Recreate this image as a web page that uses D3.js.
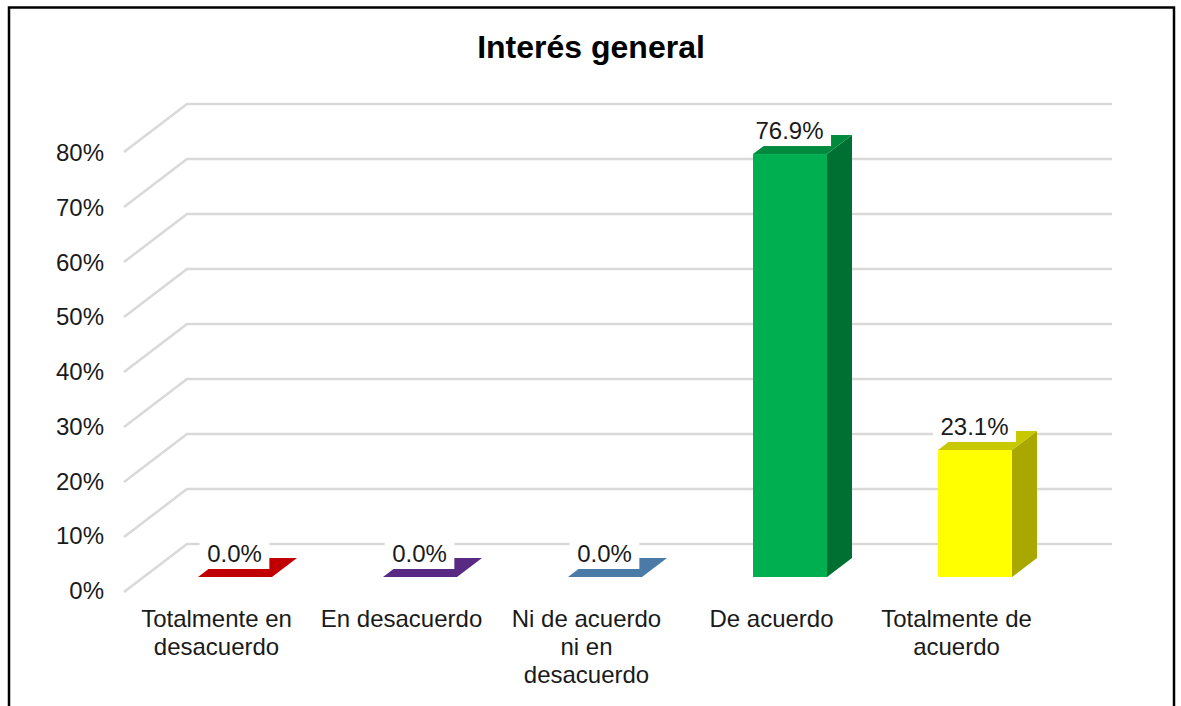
<!DOCTYPE html>
<html>
<head>
<meta charset="utf-8">
<script src="https://cdn.jsdelivr.net/npm/d3@7"></script>
<style>
  html, body { margin: 0; padding: 0; background: #fff; overflow: hidden; }
  text { font-family: "Liberation Sans", Arial, sans-serif; fill: #1a1a1a; }
</style>
</head>
<body>
<div class="chart"></div>
<script>
const categories = ["Totalmente en desacuerdo", "En desacuerdo", "Ni de acuerdo ni en desacuerdo", "De acuerdo", "Totalmente de acuerdo"];
const categoryLines = [["Totalmente en", "desacuerdo"], ["En desacuerdo"], ["Ni de acuerdo", "ni en", "desacuerdo"], ["De acuerdo"], ["Totalmente de", "acuerdo"]];
const values = [0, 0, 0, 76.9, 23.1];
const yTicks = [0, 10, 20, 30, 40, 50, 60, 70, 80];
const frontColors = ["#c00000", "#582a84", "#4a7ba7", "#00b050", "#ffff00"];
const topColors = ["#c00000", "#582a84", "#4a7ba7", "#008a3e", "#c8c800"];
const sideColors = ["#900000", "#42205f", "#375d7e", "#006f32", "#a8a800"];

const width = 1181, height = 706;

let svg = d3.select(".chart").append("svg")
    .attr("width", width)
    .attr("height", height);

// frame, runs off the bottom like the original
svg.append("path")
    .attr("d", "M9," + (height + 5) + "V7.5H1174V" + (height + 5))
    .attr("fill", "none")
    .attr("stroke", "#000")
    .attr("stroke-width", 2.5);

svg.append("text")
    .attr("x", 591)
    .attr("y", 58)
    .attr("text-anchor", "middle")
    .attr("font-size", 32)
    .attr("font-weight", "bold")
    .style("fill", "#000")
    .text("Interés general");

let x = d3.scaleBand()
    .domain(categories)
    .range([124, 1049])
    .paddingInner(0.6)
    .paddingOuter(0.3);

let y = d3.scaleLinear()
    .domain([0, 80])
    .range([592, 152]);

// 3d offsets: wall depth, bar position inside it, and bar depth
const wallX = 63, wallY = 48;
const barOffX = 18.5, barOffY = 15;
const barDepthX = 25, barDepthY = 19;

svg.append("g")
  .selectAll("path")
  .data(yTicks)
  .enter().append("path")
    .attr("d", d => "M124," + y(d) + "L" + (124 + wallX) + "," + (y(d) - wallY) + "H" + (1049 + wallX))
    .attr("fill", "none")
    .attr("stroke", "#d9d9d9")
    .attr("stroke-width", 2.5);

// tick labels sit on a slightly tighter step than the gridlines
let yLabels = d3.scaleLinear()
    .domain([0, 80])
    .range([591, 153]);

let yAxis = d3.axisLeft(yLabels)
    .tickValues(yTicks)
    .tickFormat(d => d + "%")
    .tickSize(0)
    .tickPadding(20);

let yg = svg.append("g")
    .attr("transform", "translate(124,0)")
    .call(yAxis);
yg.select(".domain").remove();
yg.selectAll("text").attr("font-size", 24).attr("font-family", null);

let xAxis = d3.axisBottom(x).tickSize(0);
let xg = svg.append("g")
    .attr("transform", "translate(0,601)")
    .call(xAxis);
xg.select(".domain").remove();
xg.selectAll("text")
    .attr("font-size", 24)
    .attr("font-family", null)
    .attr("y", 0)
    .attr("dy", null)
    .text(null)
  .selectAll("tspan")
  .data((d, i) => categoryLines[i])
  .enter().append("tspan")
    .attr("x", 0)
    .attr("y", (d, i) => 26 + i * 28)
    .text(d => d);

let bars = svg.append("g")
  .selectAll("g")
  .data(values)
  .enter().append("g");

function barLeft(i) { return x(categories[i]) + barOffX; }
function barRight(i) { return barLeft(i) + x.bandwidth(); }
function barBase() { return y(0) - barOffY; }
function barTop(d) { return y(d) - barOffY; }

bars.append("path")
    .attr("fill", (d, i) => sideColors[i])
    .attr("d", (d, i) => "M" + barRight(i) + "," + barBase()
      + "l" + barDepthX + "," + (-barDepthY)
      + "V" + (barTop(d) - barDepthY)
      + "l" + (-barDepthX) + "," + barDepthY + "Z");

bars.append("rect")
    .attr("x", (d, i) => barLeft(i))
    .attr("y", d => barTop(d))
    .attr("width", x.bandwidth())
    .attr("height", d => barBase() - barTop(d))
    .attr("fill", (d, i) => frontColors[i]);

bars.append("path")
    .attr("fill", (d, i) => topColors[i])
    .attr("d", (d, i) => "M" + barLeft(i) + "," + barTop(d)
      + "h" + x.bandwidth()
      + "l" + barDepthX + "," + (-barDepthY)
      + "h" + (-x.bandwidth()) + "Z");

// data labels have a white box that hides whatever is behind them
let labelBox = bars.append("rect")
    .attr("class", "label-box")
    .attr("y", d => barTop(d) - 36)
    .attr("height", 28)
    .attr("fill", "#fff");

let labels = bars.append("text")
    .attr("x", (d, i) => barLeft(i) + 36.5)
    .attr("y", d => barTop(d) - 15)
    .attr("text-anchor", "middle")
    .attr("font-size", 24)
    .text(d => d.toFixed(1) + "%");

labelBox.each(function(d, i) {
  let w = labels.nodes()[i].getComputedTextLength() + 15;
  d3.select(this)
    .attr("x", barLeft(i) + 36.5 - w / 2)
    .attr("width", w);
});
</script>
</body>
</html>
